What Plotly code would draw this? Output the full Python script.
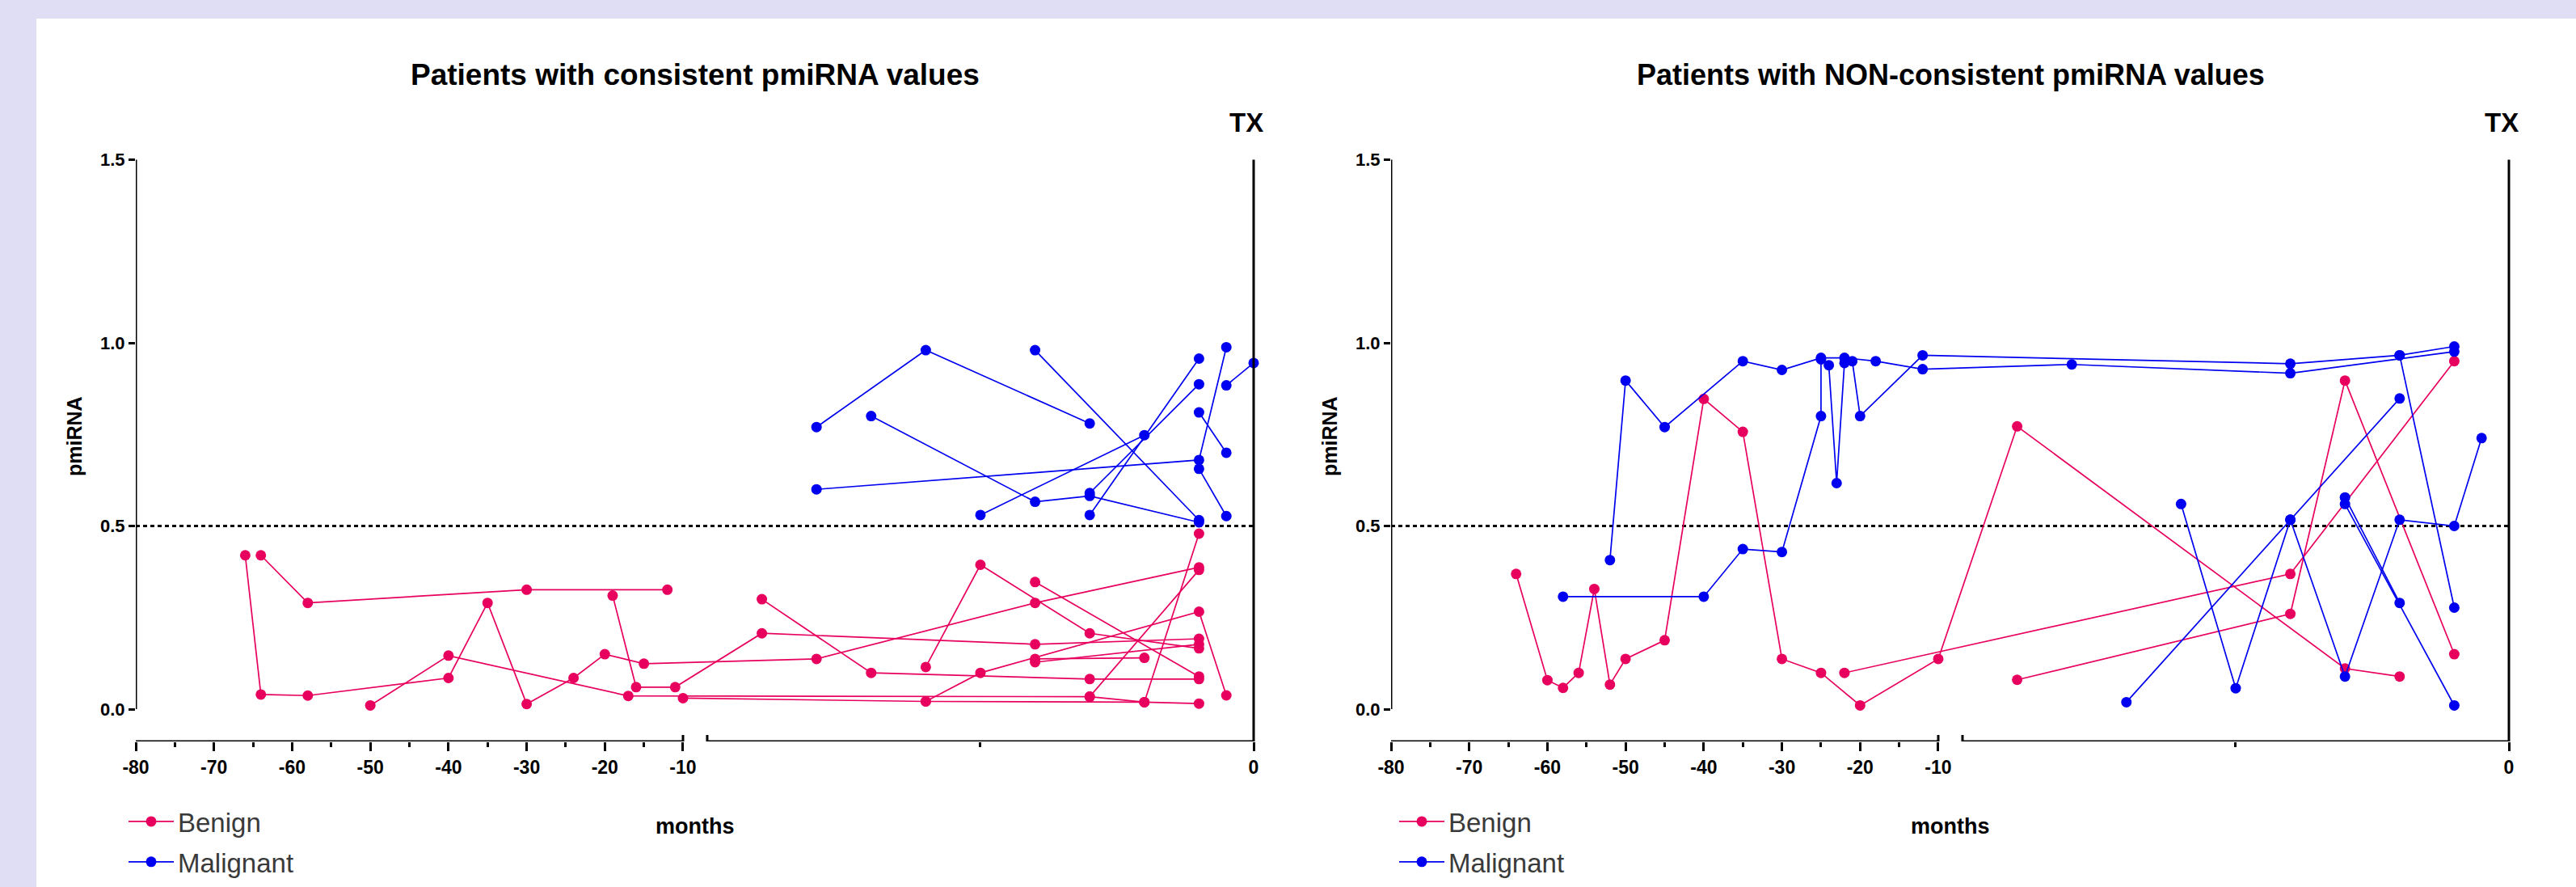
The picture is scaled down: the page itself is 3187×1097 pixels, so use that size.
import plotly.graph_objects as go

# ---------------- data (months before TX, pmiRNA values) ----------------
left_benign_months = [
    [-66, -64, -58, -40, -35, -30, -24, -20, -15, -8, -4, -1],
    [-64, -58, -30, -12],
    [-50, -40, -17, -3, -1],
    [-19, -16, -11, -9, -4, -1],
    [-10, -6, -5, -1, -0.5],
    [-9, -7, -3, -1],
    [-6, -5, -3, -1],
    [-4, -1],
    [-4, -2],
    [-4, -1],
    [-6, -2, -1],
    [-3, -2, -1],
]
left_benign_values = [
    [0.42, 0.04, 0.037, 0.085, 0.29, 0.014, 0.085, 0.15, 0.124, 0.137, 0.29, 0.387],
    [0.42, 0.29, 0.326, 0.326],
    [0.01, 0.146, 0.036, 0.034, 0.38],
    [0.31, 0.06, 0.06, 0.207, 0.177, 0.192],
    [0.03, 0.021, 0.099, 0.266, 0.0375],
    [0.30, 0.099, 0.082, 0.082],
    [0.115, 0.394, 0.207, 0.166],
    [0.347, 0.089],
    [0.137, 0.14],
    [0.128, 0.177],
    [0.021, 0.019, 0.479],
    [0.034, 0.019, 0.015],
]
left_malignant_months = [
    [-8, -6, -3],
    [-4, -1],
    [-7, -4, -3, -1],
    [-8, -1, -0.5],
    [-5, -2],
    [-3, -1],
    [-3, -1],
    [-1, -0.5],
    [-1, -0.5],
    [-0.5, 0],
]
left_malignant_values = [
    [0.77, 0.98, 0.78],
    [0.98, 0.516],
    [0.80, 0.566, 0.582, 0.51],
    [0.60, 0.68, 0.988],
    [0.53, 0.748],
    [0.53, 0.957],
    [0.59, 0.887],
    [0.81, 0.70],
    [0.656, 0.527],
    [0.884, 0.945],
]
right_benign_months = [
    [-64, -60, -58, -56, -54, -52, -50, -45, -40, -35, -30, -25, -20, -10, -9, -3, -2],
    [-22, -4, -1],
    [-9, -4, -3, -1],
]
right_benign_values = [
    [0.369, 0.079, 0.058, 0.099, 0.328, 0.067, 0.137, 0.188, 0.847, 0.757, 0.137, 0.099, 0.01, 0.137, 0.772, 0.111, 0.089],
    [0.099, 0.369, 0.95],
    [0.08, 0.26, 0.897, 0.15],
]
right_malignant_months = [
    [-52, -50, -45, -35, -30, -25, -22, -18, -12, -8, -4, -1],
    [-58, -40, -35, -30, -25, -25, -24, -23, -22, -21, -20, -12, -4, -2, -1],
    [-6, -5, -4, -3, -2, -1, -0.5],
    [-7, -4, -2],
    [-3, -2],
    [-3, -1],
    [-2, -1],
]
right_malignant_values = [
    [0.407, 0.897, 0.77, 0.95, 0.926, 0.959, 0.959, 0.95, 0.928, 0.941, 0.917, 0.976],
    [0.307, 0.307, 0.437, 0.429, 0.80, 0.955, 0.939, 0.617, 0.945, 0.95, 0.80, 0.966, 0.943, 0.966, 0.99],
    [0.56, 0.057, 0.517, 0.089, 0.517, 0.50, 0.74],
    [0.019, 0.517, 0.848],
    [0.578, 0.29],
    [0.56, 0.01],
    [0.966, 0.277],
]
major_tick_months = [-80, -70, -60, -50, -40, -30, -20, -10, 0]
major_tick_labels = ["-80", "-70", "-60", "-50", "-40", "-30", "-20", "-10", "0"]
minor_tick_months = [-75, -65, -55, -45, -35, -25, -15, -5]
y_tick_values = [0.0, 0.5, 1.0, 1.5]
y_tick_labels = ["0.0", "0.5", "1.0", "1.5"]
threshold = 0.5
titles = ["Patients with consistent pmiRNA values", "Patients with NON-consistent pmiRNA values"]

# ---------------- broken-axis scale ----------------
BREAK_AT = -10
BREAK_GAP = 3.1
SEG2_SCALE = 6.99


def to_axis(m):
    if m <= BREAK_AT:
        return m + 80
    return 70 + BREAK_GAP + (m - BREAK_AT) * SEG2_SCALE


U_END = to_axis(0)
W, H = 3187, 1097
PXU = 677 / 70.0
PAD = 40
RMAX = U_END + PAD / PXU
Y0 = -40 / 453.0
Y1 = 1.6


def px(x):
    return x / W


def py(y):
    return 1 - y / H


PINK = "#E8005E"
BLUE = "#0000F0"
FONT = "Arial, Liberation Sans, sans-serif"

fig = go.Figure()

panels = [
    ("x", "y", "legend", left_benign_months, left_benign_values, left_malignant_months, left_malignant_values),
    ("x2", "y2", "legend2", right_benign_months, right_benign_values, right_malignant_months, right_malignant_values),
]
for xa, ya, lg, bm, bv, mm, mv in panels:
    for name, color, months, values in (("Benign", PINK, bm, bv), ("Malignant", BLUE, mm, mv)):
        for i, (ms, vs) in enumerate(zip(months, values)):
            fig.add_trace(go.Scatter(
                x=[to_axis(m) for m in ms], y=vs, mode="lines+markers",
                xaxis=xa, yaxis=ya, name=name, legend=lg,
                legendgroup=name + xa, showlegend=(i == 0),
                line=dict(color=color, width=1.7),
                marker=dict(color=color, size=13, symbol="circle"),
                cliponaxis=False,
            ))

tickvals = [to_axis(m) for m in major_tick_months]
minorvals = [to_axis(m) for m in minor_tick_months]


def xaxis_cfg(x0):
    return dict(
        domain=[px(x0), px(x0 + 1383 + PAD)], range=[0, RMAX], automargin=False,
        showgrid=False, zeroline=False, showline=False,
        tickmode="array", tickvals=tickvals, ticktext=major_tick_labels,
        ticks="outside", ticklen=11, tickwidth=3, tickcolor="black",
        tickfont=dict(family=FONT, size=23, color="black", weight="bold"),
        minor=dict(tickmode="array", tickvals=minorvals, ticks="outside",
                   ticklen=6, tickwidth=3, tickcolor="black", showgrid=False),
        fixedrange=True,
    )


def yaxis_cfg(anchor):
    return dict(
        domain=[py(917), py(917 - (Y1 - Y0) * 453)], range=[Y0, Y1], anchor=anchor,
        automargin=False, showgrid=False, zeroline=False, showline=False,
        tickmode="array", tickvals=y_tick_values, ticktext=y_tick_labels,
        ticks="outside", ticklen=8, tickwidth=3, tickcolor="black",
        tickfont=dict(family=FONT, size=22, color="black", weight="bold"),
        fixedrange=True,
    )


shapes = [dict(type="rect", xref="paper", yref="paper", x0=px(45), x1=1, y0=0, y1=py(23),
               fillcolor="white", line=dict(width=0), layer="below")]
annotations = []
cap = 8 / 453.0
title_sizes = [37, 36]
for k, (xa, ya, x0) in enumerate((("x", "y", 168), ("x2", "y2", 1721))):
    lw = dict(color="black", width=3)
    shapes += [
        dict(type="line", xref=xa, yref=ya, x0=0, x1=0, y0=0, y1=1.5, line=lw),
        dict(type="line", xref=xa, yref=ya, x0=U_END, x1=U_END, y0=Y0, y1=1.5, line=lw),
        dict(type="line", xref=xa, yref=ya, x0=0, x1=to_axis(BREAK_AT), y0=Y0, y1=Y0, line=lw),
        dict(type="line", xref=xa, yref=ya, x0=70 + BREAK_GAP, x1=U_END, y0=Y0, y1=Y0, line=lw),
        dict(type="line", xref=xa, yref=ya, x0=to_axis(BREAK_AT), x1=to_axis(BREAK_AT), y0=Y0, y1=Y0 + cap, line=lw),
        dict(type="line", xref=xa, yref=ya, x0=70 + BREAK_GAP, x1=70 + BREAK_GAP, y0=Y0 - cap, y1=Y0 + cap, line=lw),
        dict(type="line", xref=xa, yref=ya, x0=0, x1=U_END, y0=threshold, y1=threshold,
             line=dict(color="black", width=3, dash="5px,4px"), layer="below"),
    ]
    cx = x0 + 692
    annotations += [
        dict(text=titles[k], xref="paper", yref="paper", x=px(cx), y=py(93), showarrow=False,
             xanchor="center", yanchor="middle",
             font=dict(family=FONT, size=title_sizes[k], color="black", weight="bold")),
        dict(text="TX", xref="paper", yref="paper", x=px(x0 + 1374), y=py(152), showarrow=False,
             xanchor="center", yanchor="middle", font=dict(family=FONT, size=33, color="black", weight="bold")),
        dict(text="months", xref="paper", yref="paper", x=px(cx), y=py(1022), showarrow=False,
             xanchor="center", yanchor="middle", font=dict(family=FONT, size=27, color="black", weight="bold")),
        dict(text="pmiRNA", xref="paper", yref="paper", x=px(x0 - 76), y=py(540), showarrow=False,
             textangle=-90, xanchor="center", yanchor="middle",
             font=dict(family=FONT, size=25, color="black", weight="bold")),
    ]

legend_style = dict(font=dict(family=FONT, size=33, color="#3a3a3a"), bgcolor="rgba(0,0,0,0)",
                    xanchor="left", yanchor="top", itemwidth=56, tracegroupgap=4, orientation="v")

fig.update_layout(
    width=W, height=H, margin=dict(l=0, r=0, t=0, b=0, autoexpand=False),
    paper_bgcolor="#E0DEF4", plot_bgcolor="rgba(0,0,0,0)",
    xaxis=xaxis_cfg(168), yaxis=yaxis_cfg("x"),
    xaxis2=xaxis_cfg(1721), yaxis2=yaxis_cfg("x2"),
    shapes=shapes, annotations=annotations,
    legend=dict(x=px(154), y=py(988), **legend_style),
    legend2=dict(x=px(1726), y=py(988), **legend_style),
    showlegend=True,
)
fig.write_html(
    "out.html",
    config={"displayModeBar": False},
    post_script="document.body.style.margin='0';document.body.style.overflow='hidden';",
)
